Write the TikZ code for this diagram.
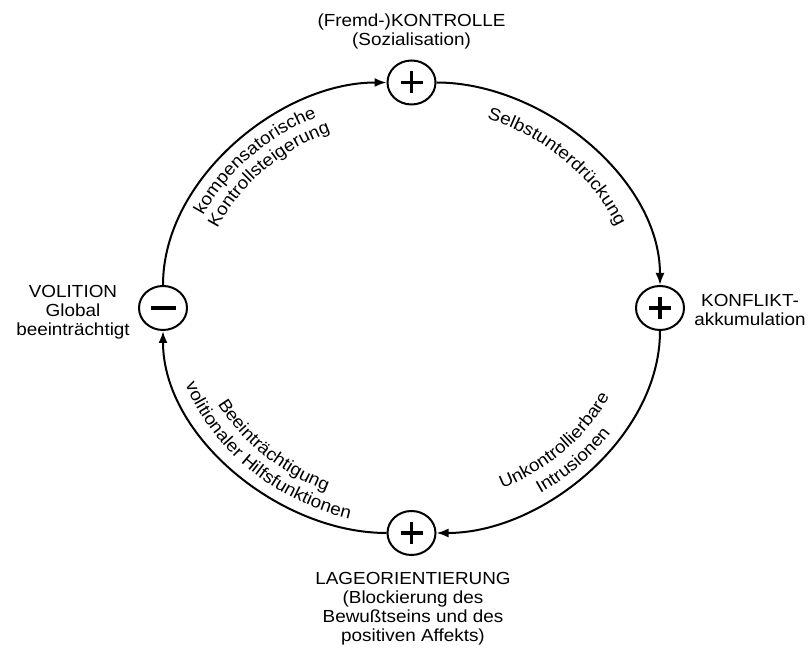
\documentclass[tikz,border=0pt]{standalone}
\usepackage{fontspec}
\setmainfont{Liberation Sans}[FakeStretch=1.08]
\usetikzlibrary{shapes.geometric,arrows.meta,decorations.text}
\newcommand{\lblfont}{\fontsize{17.5}{19}\selectfont}

\begin{document}
\begin{tikzpicture}[x=1pt,y=1pt,
	pole/.style={ellipse,draw,line width=2pt,minimum width=48pt,minimum height=44pt,inner sep=0pt},
	plusnode/.style={pole,path picture={\draw[line width=3.3pt] ([xshift=-11pt]path picture bounding box.center)--([xshift=11pt]path picture bounding box.center) ([yshift=-11pt]path picture bounding box.center)--([yshift=11pt]path picture bounding box.center);}},
	minusnode/.style={pole,path picture={\draw[line width=4pt] ([xshift=-12.5pt]path picture bounding box.center)--([xshift=12.5pt]path picture bounding box.center);}},
	cyc/.style={line width=2pt,-{Latex[length=12pt,width=9pt]},looseness=0.9},
	lbl/.style={align=center,font=\lblfont,inner sep=0pt},
	arclbl/.style={decorate,decoration={text along path,text align=center,text={|\lblfont|#1}}}]
	\useasboundingbox (0,0) rectangle (809,648);
	\coordinate (mid) at (411.5,340);
	\node[plusnode] (kon) at (411.5,565.5) {};
	\node[plusnode] (konf) at (660,340) {};
	\node[plusnode] (lage) at (411.5,115) {};
	\node[minusnode] (vol) at (163,340) {};
	\draw[cyc] (vol) to[out=90,in=180] (kon);
	\draw[cyc] (kon) to[out=0,in=90] (konf);
	\draw[cyc] (konf) to[out=-90,in=0] (lage);
	\draw[cyc] (lage) to[out=180,in=-90] (vol);
	\node[lbl] (kontxt) at (411.5,617) {(Fremd-)KONTROLLE\\(Sozialisation)};
	\node[lbl] (voltxt) at (73,336) {VOLITION\\Global\\beeinträchtigt};
	\node[lbl] (konftxt) at (750,338) {KONFLIKT-\\akkumulation};
	\node[lbl] (lagetxt) at (413,39) {LAGEORIENTIERUNG\\(Blockierung des\\Bewußtseins und des\\positiven Affekts)};
	\path[arclbl=kompensatorische] (mid) ++(180:232.5 and 209) arc[start angle=180,end angle=90,x radius=232.5,y radius=209];
	\path[arclbl=Kontrollsteigerung] (mid) ++(180:213.5 and 190) arc[start angle=180,end angle=90,x radius=213.5,y radius=190];
	\path[arclbl=Selbstunterdrückung] (mid) ++(92:224.5 and 201) arc[start angle=92,end angle=0,x radius=224.5,y radius=201];
	\path[arclbl=Intrusionen] (mid) ++(-90:242.5 and 219) arc[start angle=-90,end angle=0,x radius=242.5,y radius=219];
	\path[arclbl=Unkontrollierbare] (mid) ++(-90:221.5 and 198) arc[start angle=-90,end angle=0,x radius=221.5,y radius=198];
	\path[arclbl=volitionaler Hilfsfunktionen] (mid) ++(182:241.5 and 218) arc[start angle=182,end angle=272,x radius=241.5,y radius=218];
	\path[arclbl=Beeinträchtigung] (mid) ++(182:221.5 and 198) arc[start angle=182,end angle=272,x radius=221.5,y radius=198];
\end{tikzpicture}
\end{document}
